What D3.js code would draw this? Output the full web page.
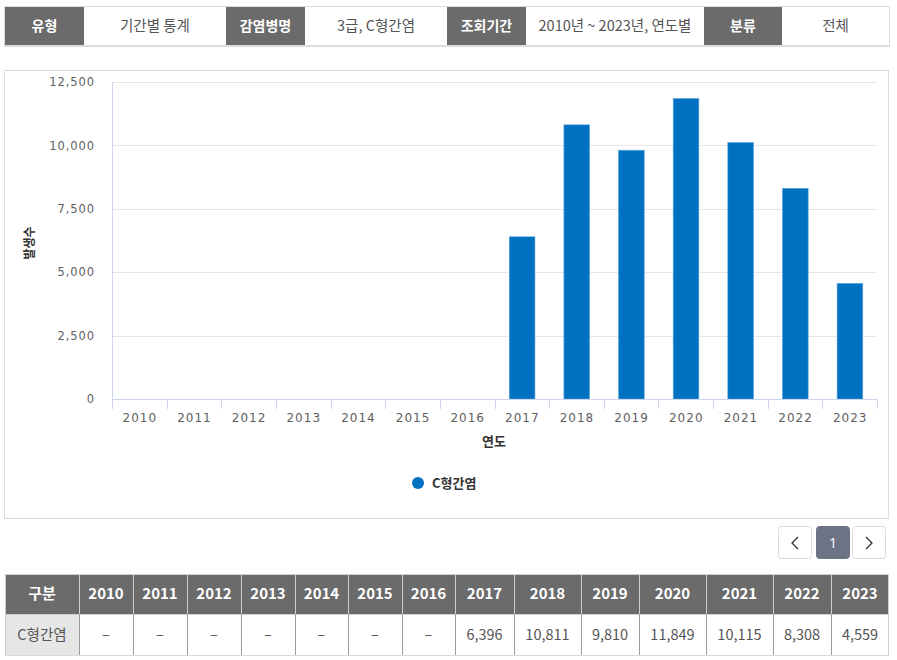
<!DOCTYPE html>
<html><head><meta charset="utf-8">
<script src="https://cdn.jsdelivr.net/npm/d3@7"></script>
<style>
html,body{margin:0;padding:0;background:#fff;}
svg{display:block;}
</style>
</head><body>
<svg id="c" width="897" height="660"></svg>
<script>
const years = ["2010","2011","2012","2013","2014","2015","2016","2017","2018","2019","2020","2021","2022","2023"];
const values = [null,null,null,null,null,null,null,6396,10811,9810,11849,10115,8308,4559];
const yTicks = [0,2500,5000,7500,10000,12500];
const seriesName = "C형간염";
const filterLabels = ["유형","감염병명","조회기간","분류"];
const filterValues = ["기간별 통계","3급, C형간염","2010년 ~ 2023년, 연도별","전체"];
const yTitle = "발생수";
const xTitle = "연도";
const tableHead = "구분";

(function(){
const KR = "'Noto Sans CJK KR','Noto Sans',sans-serif";
const svg = d3.select("#c");

// ---- filter bar ----
const fCols = [5,84,226,305,447,526,704,782,889];
const fg = svg.append("g");
fg.append("rect").attr("x",4.5).attr("y",6.5).attr("width",885).attr("height",40).attr("fill","#fff").attr("stroke","#dcdcdc");
fg.append("rect").attr("x",4).attr("y",45).attr("width",886).attr("height",2).attr("fill","#dcdcdc");
for (let i=0;i<8;i++){
  const x0=fCols[i], x1=fCols[i+1];
  const isHead = i%2===0;
  if(isHead) fg.append("rect").attr("x",x0).attr("y",7).attr("width",x1-x0).attr("height",38).attr("fill","#6b6b6b");
  fg.append("text").attr("x",(x0+x1)/2).attr("y",31)
    .attr("text-anchor","middle").attr("font-family",KR)
    .attr("font-size",isHead?14:14.5).attr("font-weight",isHead?"bold":"normal")
    .attr("fill",isHead?"#fff":"#555")
    .text(isHead?filterLabels[i/2]:filterValues[(i-1)/2]);
}

// ---- chart container ----
svg.append("rect").attr("x",4.5).attr("y",70.5).attr("width",884).attr("height",448).attr("fill","#fff").attr("stroke","#dcdcdc");

const pL=112, pR=877, pT=82, pB=399;
const x = d3.scaleBand().domain(years).range([pL,pR]).padding(0);
const y = d3.scaleLinear().domain([0,12500]).range([pB,pT]);

const g = svg.append("g");
g.selectAll("line.grid").data(yTicks.filter(t=>t>0)).join("line")
  .attr("x1",pL).attr("x2",pR).attr("y1",d=>Math.round(y(d))+0.5).attr("y2",d=>Math.round(y(d))+0.5)
  .attr("stroke","#e6e6e6");
g.append("line").attr("x1",pL+0.5).attr("x2",pL+0.5).attr("y1",pT).attr("y2",pB).attr("stroke","#ccd6eb");

const yAxis = d3.axisLeft(y).tickValues(yTicks).tickSize(0).tickPadding(17).tickFormat(d3.format(","));
const ya = g.append("g").attr("transform",`translate(${pL},0)`).call(yAxis);
ya.select(".domain").remove();
ya.selectAll("text").attr("font-family","'DejaVu Sans',Verdana,sans-serif").attr("font-size",11.5)
  .attr("letter-spacing","0.9px").attr("fill","#606060");

const bw = x.bandwidth();
g.selectAll("rect.bar").data(years.map((yr,i)=>({yr,v:values[i]})).filter(d=>d.v!==null)).join("rect")
  .attr("x",d=>x(d.yr)+bw*0.27).attr("width",bw*0.47)
  .attr("y",d=>y(d.v)).attr("height",d=>pB-y(d.v))
  .attr("fill","#0070c0").attr("stroke","#5aa6e0").attr("stroke-width",0.6);

const xAxis = d3.axisBottom(x).tickSize(0).tickPadding(14);
const xa = g.append("g").attr("transform",`translate(0,${pB})`).call(xAxis);
xa.select(".domain").remove();
xa.selectAll("text").attr("font-family","'DejaVu Sans',Verdana,sans-serif").attr("font-size",12)
  .attr("letter-spacing","1px").attr("fill","#606060").attr("dx","0.5");
g.append("line").attr("x1",pL).attr("x2",pR+1).attr("y1",pB+0.5).attr("y2",pB+0.5).attr("stroke","#ccd6eb");
g.selectAll("line.tick").data(years.concat(["end"])).join("line")
  .attr("x1",(d,i)=>Math.round(pL+i*bw)+0.5).attr("x2",(d,i)=>Math.round(pL+i*bw)+0.5)
  .attr("y1",pB).attr("y2",pB+10).attr("stroke","#ccd6eb");

g.append("text").attr("transform",`translate(34,243) rotate(-90)`).attr("text-anchor","middle")
  .attr("font-family",KR).attr("font-size",12).attr("font-weight","bold").attr("fill","#333").text(yTitle);
g.append("text").attr("x",494).attr("y",446).attr("text-anchor","middle")
  .attr("font-family",KR).attr("font-size",13).attr("font-weight","bold").attr("fill","#333").text(xTitle);

g.append("circle").attr("cx",418).attr("cy",483).attr("r",6).attr("fill","#0070c0");
g.append("text").attr("x",432).attr("y",488).attr("font-family",KR).attr("font-size",13).attr("font-weight","bold").attr("fill","#333").text(seriesName);

// ---- pagination ----
const pg = svg.append("g");
const btns = [{x:778,active:false},{x:816,active:true},{x:852,active:false}];
btns.forEach(b=>{
  pg.append("rect").attr("x",b.x+0.5).attr("y",526.5).attr("width",33).attr("height",32).attr("rx",3)
    .attr("fill",b.active?"#6b7385":"#fff").attr("stroke",b.active?"#6b7385":"#dcdcdc");
});
pg.append("path").attr("d","M798,537 L792,543 L798,549").attr("fill","none").attr("stroke","#333").attr("stroke-width",1.3);
pg.append("path").attr("d","M866,537 L872,543 L866,549").attr("fill","none").attr("stroke","#333").attr("stroke-width",1.3);
pg.append("text").attr("x",833).attr("y",548).attr("text-anchor","middle").attr("font-family","'Open Sans',sans-serif")
  .attr("font-size",14).attr("fill","#fff").text("1");

// ---- data table ----
const tCols = [5,79,133,187,241,295,348,402,455,514,581,639,706,773,831,889];
const tg = svg.append("g");
const hy0=574, hy1=614, dy1=655;
tg.append("rect").attr("x",5).attr("y",hy0).attr("width",884).attr("height",hy1-hy0).attr("fill","#6b6b6b");
tg.append("rect").attr("x",5).attr("y",hy1).attr("width",74).attr("height",dy1-hy1).attr("fill","#e6e6e6");
tg.append("line").attr("x1",5).attr("x2",889).attr("y1",hy0+0.5).attr("y2",hy0+0.5).attr("stroke","#cfcfcf");
tg.append("line").attr("x1",5).attr("x2",889).attr("y1",hy1+0.5).attr("y2",hy1+0.5).attr("stroke","#cfcfcf");
tg.append("line").attr("x1",5).attr("x2",889).attr("y1",dy1+0.5).attr("y2",dy1+0.5).attr("stroke","#d8d8d8");
for(let i=1;i<tCols.length-1;i++){
  tg.append("line").attr("x1",tCols[i]+0.5).attr("x2",tCols[i]+0.5).attr("y1",hy0).attr("y2",hy1).attr("stroke","#d0d0d0");
  tg.append("line").attr("x1",tCols[i]+0.5).attr("x2",tCols[i]+0.5).attr("y1",hy1).attr("y2",dy1).attr("stroke","#9a9a9a");
}
tg.append("line").attr("x1",5.5).attr("x2",5.5).attr("y1",hy0).attr("y2",dy1).attr("stroke","#cfcfcf");
tg.append("line").attr("x1",888.5).attr("x2",888.5).attr("y1",hy0).attr("y2",dy1).attr("stroke","#cfcfcf");
const headCells=[tableHead].concat(years);
const fmt=d3.format(",");
const dataCells=[seriesName].concat(values.map(v=>v===null?"–":fmt(v)));
headCells.forEach((t,i)=>{
  tg.append("text").attr("x",(tCols[i]+tCols[i+1])/2).attr("y",599).attr("text-anchor","middle")
    .attr("font-family",KR).attr("font-size",15).attr("font-weight","bold").attr("fill","#fff").text(t);
});
dataCells.forEach((t,i)=>{
  tg.append("text").attr("x",(tCols[i]+tCols[i+1])/2).attr("y",640).attr("text-anchor","middle")
    .attr("font-family",KR).attr("font-size",14.5).attr("fill","#555").text(t);
});
})();
</script>
</body></html>
